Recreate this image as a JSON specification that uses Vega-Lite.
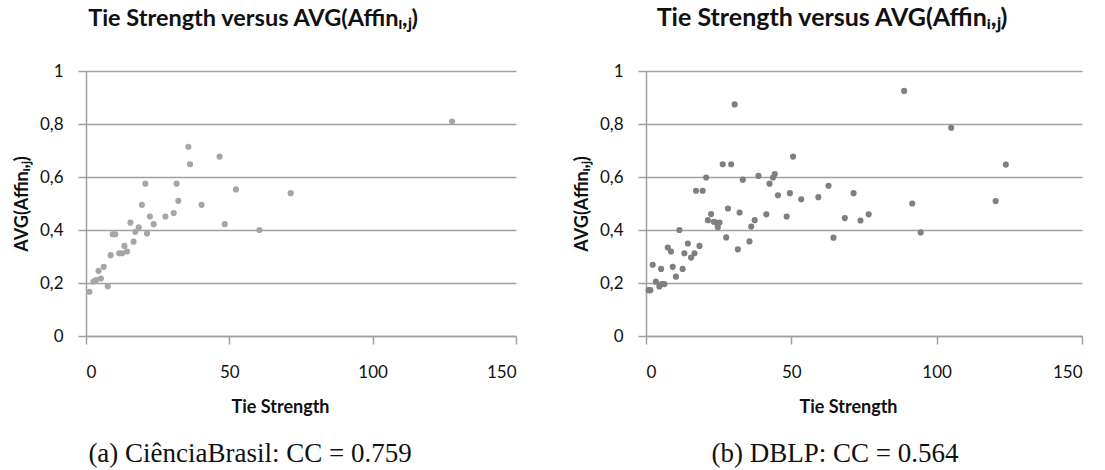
{
  "$schema": "https://vega.github.io/schema/vega-lite/v6.json",
  "padding": {"left": 13, "top": 6, "right": 6, "bottom": 2},
  "background": "white",
  "spacing": 56,
  "datasets": {
    "cb": [
      {"ts": 1.2, "avg": 0.167}, {"ts": 2.6, "avg": 0.205}, {"ts": 3.5, "avg": 0.211}, {"ts": 4.4, "avg": 0.246},
      {"ts": 5.2, "avg": 0.217}, {"ts": 6.2, "avg": 0.261}, {"ts": 7.6, "avg": 0.188}, {"ts": 8.6, "avg": 0.305},
      {"ts": 9.3, "avg": 0.384}, {"ts": 10.2, "avg": 0.384}, {"ts": 11.6, "avg": 0.312}, {"ts": 12.6, "avg": 0.312},
      {"ts": 13.4, "avg": 0.34}, {"ts": 14.3, "avg": 0.319}, {"ts": 15.5, "avg": 0.428}, {"ts": 16.6, "avg": 0.356},
      {"ts": 17.2, "avg": 0.393}, {"ts": 18.4, "avg": 0.41}, {"ts": 19.5, "avg": 0.495}, {"ts": 20.7, "avg": 0.575},
      {"ts": 21.3, "avg": 0.387}, {"ts": 22.3, "avg": 0.451}, {"ts": 23.6, "avg": 0.422}, {"ts": 27.7, "avg": 0.451},
      {"ts": 30.6, "avg": 0.464}, {"ts": 31.6, "avg": 0.575}, {"ts": 32.2, "avg": 0.51}, {"ts": 35.7, "avg": 0.714},
      {"ts": 36.3, "avg": 0.648}, {"ts": 40.3, "avg": 0.495}, {"ts": 46.6, "avg": 0.677}, {"ts": 48.4, "avg": 0.422},
      {"ts": 52.3, "avg": 0.553}, {"ts": 60.5, "avg": 0.4}, {"ts": 71.4, "avg": 0.539}, {"ts": 127.7, "avg": 0.809}
    ],
    "dblp": [
      {"ts": 0.9, "avg": 0.173}, {"ts": 1.5, "avg": 0.173}, {"ts": 2.3, "avg": 0.269}, {"ts": 3.4, "avg": 0.205},
      {"ts": 4.6, "avg": 0.187}, {"ts": 5.2, "avg": 0.253}, {"ts": 5.4, "avg": 0.196}, {"ts": 6.3, "avg": 0.196},
      {"ts": 7.5, "avg": 0.334}, {"ts": 8.6, "avg": 0.319}, {"ts": 9.2, "avg": 0.261}, {"ts": 10.3, "avg": 0.224},
      {"ts": 11.5, "avg": 0.4}, {"ts": 12.6, "avg": 0.253}, {"ts": 13.2, "avg": 0.312}, {"ts": 14.4, "avg": 0.349},
      {"ts": 15.5, "avg": 0.296}, {"ts": 16.7, "avg": 0.312}, {"ts": 17.2, "avg": 0.548}, {"ts": 18.4, "avg": 0.34},
      {"ts": 19.5, "avg": 0.548}, {"ts": 20.7, "avg": 0.598}, {"ts": 21.3, "avg": 0.437}, {"ts": 22.4, "avg": 0.46},
      {"ts": 23.3, "avg": 0.431}, {"ts": 24.1, "avg": 0.428}, {"ts": 24.7, "avg": 0.41}, {"ts": 25.3, "avg": 0.428},
      {"ts": 26.4, "avg": 0.648}, {"ts": 27.6, "avg": 0.372}, {"ts": 28.2, "avg": 0.481}, {"ts": 29.3, "avg": 0.648},
      {"ts": 30.5, "avg": 0.874}, {"ts": 31.6, "avg": 0.327}, {"ts": 32.2, "avg": 0.466}, {"ts": 33.3, "avg": 0.59},
      {"ts": 35.6, "avg": 0.357}, {"ts": 36.2, "avg": 0.413}, {"ts": 37.4, "avg": 0.437}, {"ts": 38.7, "avg": 0.604},
      {"ts": 41.4, "avg": 0.459}, {"ts": 42.5, "avg": 0.575}, {"ts": 43.7, "avg": 0.598}, {"ts": 44.3, "avg": 0.611},
      {"ts": 45.4, "avg": 0.531}, {"ts": 48.4, "avg": 0.451}, {"ts": 49.5, "avg": 0.539}, {"ts": 50.6, "avg": 0.677},
      {"ts": 53.4, "avg": 0.516}, {"ts": 59.3, "avg": 0.524}, {"ts": 62.8, "avg": 0.567}, {"ts": 64.5, "avg": 0.371},
      {"ts": 68.4, "avg": 0.445}, {"ts": 71.4, "avg": 0.539}, {"ts": 73.8, "avg": 0.436}, {"ts": 76.6, "avg": 0.459},
      {"ts": 88.8, "avg": 0.925}, {"ts": 91.6, "avg": 0.5}, {"ts": 94.5, "avg": 0.391}, {"ts": 105.0, "avg": 0.786},
      {"ts": 120.3, "avg": 0.509}, {"ts": 123.8, "avg": 0.647}
    ]
  },
  "config": {
    "view": {"stroke": null},
    "font": "Lato",
    "axis": {
      "labelFont": "Lato", "labelFontSize": 17, "labelColor": "#111111",
      "titleFont": "Lato", "titleFontSize": 18, "titleFontWeight": "bold", "titleColor": "#111111",
      "domainColor": "#a0a0a0", "domainWidth": 1.5,
      "tickColor": "#a0a0a0", "tickWidth": 1.5, "tickSize": 8,
      "gridColor": "#a0a0a0", "gridWidth": 1.5
    },
    "axisY": {"labelAlign": "right", "labelBaseline": "middle", "labelPadding": 15},
    "title": {"font": "Lato", "fontWeight": "bold", "color": "#111111"}
  },
  "hconcat": [
    {
      "title": {"text": "(a) CiênciaBrasil: CC = 0.759", "orient": "bottom", "anchor": "middle", "font": "Liberation Serif", "fontSize": 27, "fontWeight": "normal", "frame": "bounds", "offset": 25, "dx": -15},
      "vconcat": [
        {
          "title": {"text": "Tie Strength versus AVG(Affinᵢ,ⱼ)", "fontSize": 23.5, "anchor": "middle", "frame": "bounds", "offset": 32, "dx": -12},
          "width": 430, "height": 265,
          "data": {"name": "cb"},
          "mark": {"type": "circle", "size": 38, "opacity": 1, "color": "#a6a6a6"},
          "encoding": {
            "x": {"field": "ts", "type": "quantitative", "scale": {"domain": [0, 150], "nice": false},
                  "axis": {"values": [0, 50, 100, 150], "grid": false, "title": "Tie Strength", "labelPadding": 20, "titlePadding": 18, "titleX": 194}},
            "y": {"field": "avg", "type": "quantitative", "scale": {"domain": [0, 1], "nice": false},
                  "axis": {"values": [0, 0.2, 0.4, 0.6, 0.8, 1], "grid": true, "title": "AVG(Affinᵢ,ⱼ)", "titlePadding": 8,
                           "labelExpr": "replace(format(datum.value, '~g'), '.', ',')"}}
          }
        }
      ]
    },
    {
      "title": {"text": "(b) DBLP: CC = 0.564", "orient": "bottom", "anchor": "middle", "font": "Liberation Serif", "fontSize": 27, "fontWeight": "normal", "frame": "bounds", "offset": 25, "dx": 7},
      "vconcat": [
        {
          "title": {"text": "Tie Strength versus AVG(Affinᵢ,ⱼ)", "fontSize": 25, "anchor": "middle", "frame": "bounds", "offset": 31, "dx": 4},
          "width": 436, "height": 265,
          "data": {"name": "dblp"},
          "mark": {"type": "circle", "size": 38, "opacity": 1, "color": "#7f7f7f"},
          "encoding": {
            "x": {"field": "ts", "type": "quantitative", "scale": {"domain": [0, 150], "nice": false},
                  "axis": {"values": [0, 50, 100, 150], "grid": false, "title": "Tie Strength", "labelPadding": 20, "titlePadding": 18, "titleX": 202}},
            "y": {"field": "avg", "type": "quantitative", "scale": {"domain": [0, 1], "nice": false},
                  "axis": {"values": [0, 0.2, 0.4, 0.6, 0.8, 1], "grid": true, "title": "AVG(Affinᵢ,ⱼ)", "titlePadding": 8,
                           "labelExpr": "replace(format(datum.value, '~g'), '.', ',')"}}
          }
        }
      ]
    }
  ]
}
